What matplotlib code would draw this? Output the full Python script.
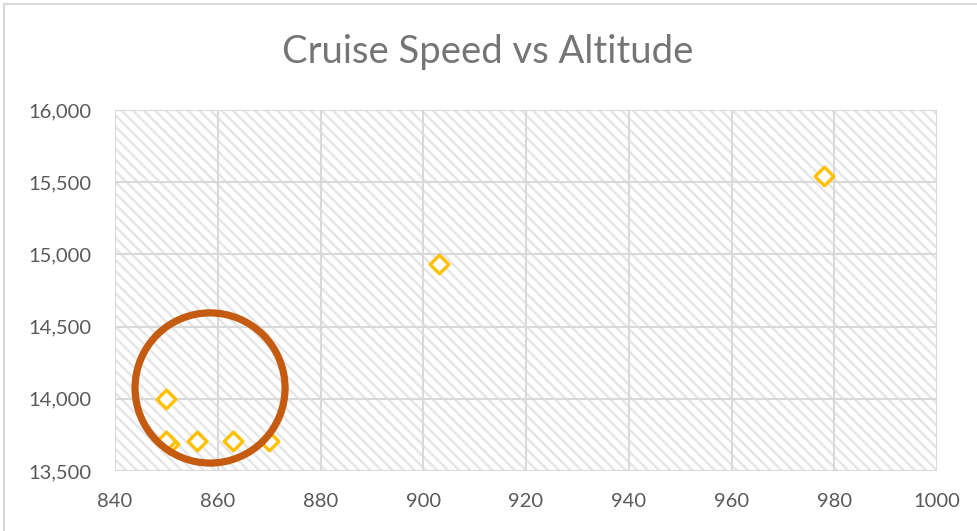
import matplotlib
matplotlib.use('Agg')
import matplotlib.pyplot as plt
from matplotlib.patches import Rectangle, Ellipse
from matplotlib.ticker import FuncFormatter, MultipleLocator

plt.rcParams['font.family'] = ['Lato', 'DejaVu Sans']
plt.rcParams['hatch.linewidth'] = 1.8
plt.rcParams['hatch.color'] = '#E6E6E6'

# cruise speed (x) vs altitude (y)
speed = [850, 850, 856, 863, 870, 903, 978]
altitude = [14000, 13710, 13710, 13710, 13710, 14935, 15545]
# one point sits almost under another near (850, 13710)
hidden_speed = [850.6]
hidden_altitude = [13690]

fig = plt.figure(figsize=(9.78, 5.31), dpi=100)
fig.patches.append(Rectangle((4 / 978, -0.1), 1.2, 1 - 4 / 531 + 0.1,
                             transform=fig.transFigure, fill=False,
                             edgecolor='#D9D9D9', linewidth=1.5))

ax = fig.add_axes([115 / 978, 1 - 471 / 531, 822 / 978, 361 / 531])
ax.add_patch(Rectangle((0, 0), 1, 1, transform=ax.transAxes, facecolor='white',
                       hatch='\\\\\\', edgecolor='#E6E6E6', linewidth=0, zorder=0.2))

ax.scatter(hidden_speed, hidden_altitude, marker='D', s=90,
           facecolor='white', edgecolor='#FFC000', linewidth=2.4, zorder=2.9)
ax.scatter(speed, altitude, marker='D', s=90,
           facecolor='white', edgecolor='#FFC000', linewidth=2.4, zorder=3)

ax.add_patch(Ellipse((858.5, 14075), 29.2, 1040, fill=False,
                     edgecolor='#C55A11', linewidth=5.2, zorder=4, clip_on=False))

ax.set_xlim(840, 1000)
ax.set_ylim(13500, 16000)
ax.xaxis.set_major_locator(MultipleLocator(20))
ax.yaxis.set_major_locator(MultipleLocator(500))
ax.yaxis.set_major_formatter(FuncFormatter(lambda v, p: f'{v:,.0f}'))
ax.set_axisbelow(True)
ax.grid(True, color='#D9D9D9', linewidth=1.5, zorder=0.5)
for s in ax.spines.values():
    s.set_visible(False)
ax.tick_params(length=0, labelsize=14.5, labelcolor='#595959')
ax.tick_params(axis='y', pad=17)
ax.tick_params(axis='x', pad=16)

fig.text(488 / 978, 1 - 52 / 531, 'Cruise Speed vs Altitude', ha='center', va='center',
         fontsize=27.5, color='#757575')

fig.savefig('out.png', dpi=100)
